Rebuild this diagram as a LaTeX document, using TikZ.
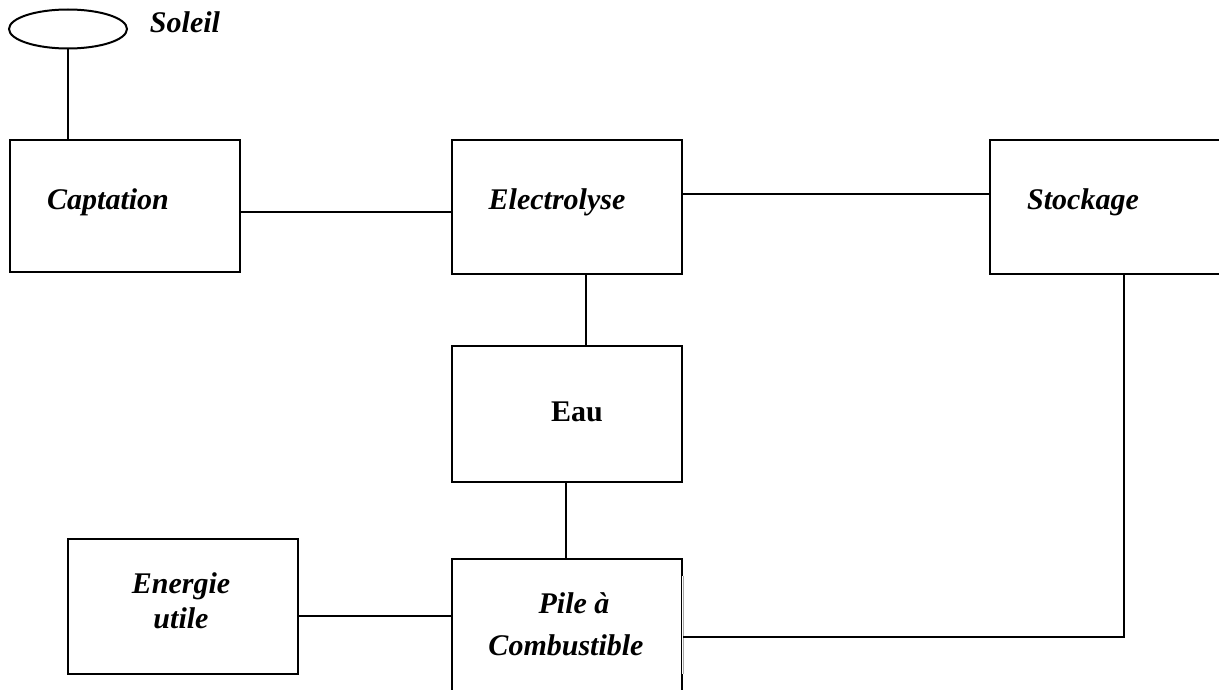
\documentclass[tikz,border=0pt]{standalone}
\usepackage{fontspec}
\setmainfont{Liberation Serif}
\usetikzlibrary{shapes.geometric}

\tikzset{
  blockbox/.style={draw, rectangle, line width=2pt, inner sep=0pt},
  wire/.style={line width=2pt},
  lbl/.style={font=\fontsize{30}{34}\selectfont\bfseries\itshape, inner sep=0pt, anchor=base}
}

\begin{document}
\begin{tikzpicture}[x=1pt,y=-1pt]

\useasboundingbox (0,0) rectangle (1219,690);
\clip (0,0) rectangle (1219,690);

% sun
\node[draw, ellipse, line width=2pt, minimum width=118pt, minimum height=39pt, inner sep=0pt] (sun) at (68,29) {};

% boxes
\node[blockbox, minimum width=230pt, minimum height=132pt] (capt)  at (125,206)   {};
\node[blockbox, minimum width=230pt, minimum height=134pt] (elec)  at (567,207)   {};
\node[blockbox, minimum width=268pt, minimum height=134pt] (stock) at (1124,207)  {};
\node[blockbox, minimum width=230pt, minimum height=136pt] (eau)   at (567,414)   {};
\node[blockbox, minimum width=230pt, minimum height=156pt] (pile)  at (567,637)   {};
\node[blockbox, minimum width=230pt, minimum height=135pt] (ener)  at (183,606.5) {};

% thin part of the right side of the fuel cell box
\draw[white, line width=3pt] ([yshift=-18pt]pile.north east) -- ([yshift=-116pt]pile.north east);
\draw[gray!70, line width=0.8pt] ([yshift=-18pt]pile.north east) -- ([yshift=-116pt]pile.north east);

% links
\draw[wire] (sun.south) -- (sun.south |- capt.north);
\draw[wire] ([yshift=-6pt]capt.east) -- ([yshift=-6pt]capt.east -| elec.west);
\draw[wire] ([yshift=13pt]elec.east) -- ([yshift=13pt]elec.east -| stock.west);
\draw[wire] ([xshift=19pt]elec.south) -- ([xshift=19pt]elec.south |- eau.north);
\draw[wire] ([xshift=-1pt]eau.south) -- ([xshift=-1pt]eau.south |- pile.north);
\draw[wire] ([yshift=-9.5pt]ener.east) -- ([yshift=-9.5pt]ener.east -| pile.west);
\draw[wire] (stock.south) |- (pile.east);

% labels
\node[lbl] (soleil)   at (185,33)  {Soleil};
\node[lbl] (captlbl)  at (108,210) {Captation};
\node[lbl] (eleclbl)  at (557,209) {Electrolyse};
\node[lbl] (stocklbl) at (1083,209) {Stockage};
\node[lbl, font=\fontsize{30}{34}\selectfont\bfseries\upshape] (eaulbl) at (577,421) {Eau};
\node[lbl] (pilelbl)  at (574,613) {Pile à};
\node[lbl] (combulbl) at (566,655) {Combustible};
\node[lbl] (enerlbl)  at (181,593) {Energie};
\node[lbl] (utilelbl) at (181,628) {utile};

\end{tikzpicture}
\end{document}
